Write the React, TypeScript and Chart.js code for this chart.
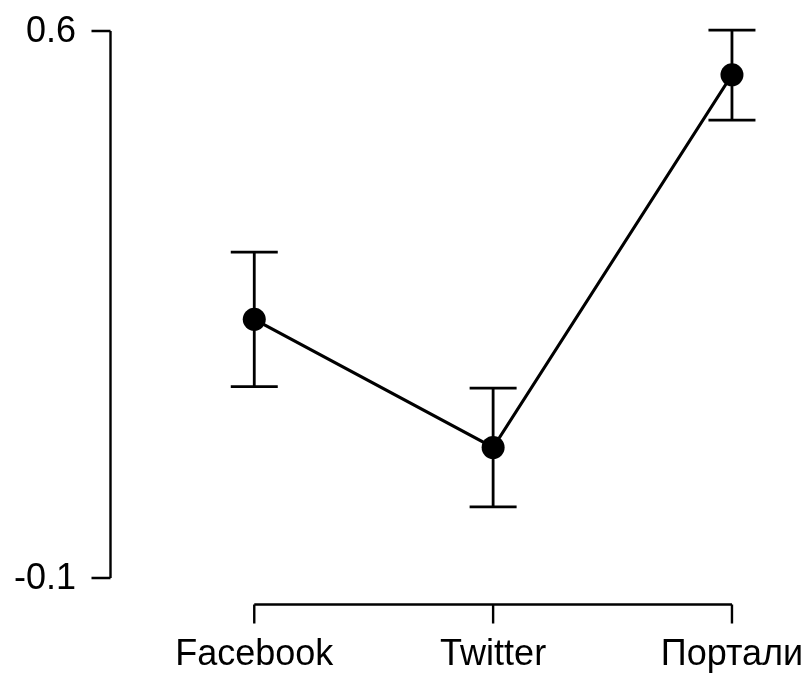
import React, { useEffect, useRef } from "react";
import { Chart, registerables } from "chart.js";

Chart.register(...registerables);

const categories = ["Facebook", "Twitter", "Портали"];
const means = [0.231, 0.067, 0.544];
const lows = [0.145, -0.009, 0.486];
const highs = [0.317, 0.143, 0.601];
const yTicks = [-0.1, 0.6];
const yTickLabels = ["-0.1", "0.6"];

const FONT = "36px 'Liberation Sans', Arial, sans-serif";

const rAxesPlugin = {
  id: "rAxes",
  afterDatasetsDraw(chart: any) {
    const ctx = chart.ctx;
    const xs = chart.scales.x;
    const ys = chart.scales.y;
    ctx.save();
    ctx.strokeStyle = "#000";
    ctx.fillStyle = "#000";
    ctx.lineCap = "butt";

    // error bars
    ctx.lineWidth = 2.8;
    const cap = 23.5;
    for (let i = 0; i < means.length; i++) {
      const px = xs.getPixelForValue(i);
      const yl = ys.getPixelForValue(lows[i]);
      const yh = ys.getPixelForValue(highs[i]);
      ctx.beginPath();
      ctx.moveTo(px, yl);
      ctx.lineTo(px, yh);
      ctx.moveTo(px - cap, yl);
      ctx.lineTo(px + cap, yl);
      ctx.moveTo(px - cap, yh);
      ctx.lineTo(px + cap, yh);
      ctx.stroke();
    }

    // y axis
    const axX = 110.5;
    ctx.lineWidth = 2.4;
    const yTop = ys.getPixelForValue(yTicks[yTicks.length - 1]);
    const yBot = ys.getPixelForValue(yTicks[0]);
    ctx.beginPath();
    ctx.moveTo(axX, yTop);
    ctx.lineTo(axX, yBot);
    yTicks.forEach((t) => {
      const py = ys.getPixelForValue(t);
      ctx.moveTo(axX, py);
      ctx.lineTo(axX - 19, py);
    });
    ctx.stroke();
    ctx.font = FONT;
    ctx.textAlign = "right";
    ctx.textBaseline = "middle";
    yTicks.forEach((t, i) => {
      const py = ys.getPixelForValue(t);
      ctx.fillText(yTickLabels[i], 76, py + 1);
    });

    // x axis
    const axY = 604.5;
    const x0 = xs.getPixelForValue(0);
    const x1 = xs.getPixelForValue(categories.length - 1);
    ctx.beginPath();
    ctx.moveTo(x0, axY);
    ctx.lineTo(x1, axY);
    categories.forEach((_, i) => {
      const px = xs.getPixelForValue(i);
      ctx.moveTo(px, axY);
      ctx.lineTo(px, axY + 19);
    });
    ctx.stroke();
    ctx.textAlign = "center";
    ctx.textBaseline = "alphabetic";
    categories.forEach((c, i) => {
      const px = xs.getPixelForValue(i);
      ctx.fillText(c, px, 665);
    });
    ctx.restore();
  },
};

export default function App() {
  const ref = useRef<HTMLCanvasElement | null>(null);
  useEffect(() => {
    document.body.style.margin = "0";
    const canvas = ref.current!;
    const chart = new Chart(canvas, {
      type: "line",
      data: {
        datasets: [
          {
            data: means.map((v, i) => ({ x: i, y: v })),
            borderColor: "#000",
            backgroundColor: "#000",
            borderWidth: 3.2,
            pointRadius: 11.5,
            pointBorderWidth: 0,
            pointBackgroundColor: "#000",
            tension: 0,
            clip: false as any,
            order: 0,
          },
        ],
      },
      options: {
        animation: false,
        responsive: false,
        events: [],
        layout: { padding: { left: 110, top: 31, bottom: 96, right: 0 } },
        plugins: { legend: { display: false }, tooltip: { enabled: false } },
        scales: {
          x: { type: "linear", min: -0.604, max: 2.266, display: false },
          y: { type: "linear", min: -0.1, max: 0.6, display: false },
        },
      },
      plugins: [rAxesPlugin],
    });
    return () => chart.destroy();
  }, []);
  return (
    <div style={{ width: 807, height: 674, background: "#fff" }}>
      <canvas ref={ref} width={807} height={674} />
    </div>
  );
}
